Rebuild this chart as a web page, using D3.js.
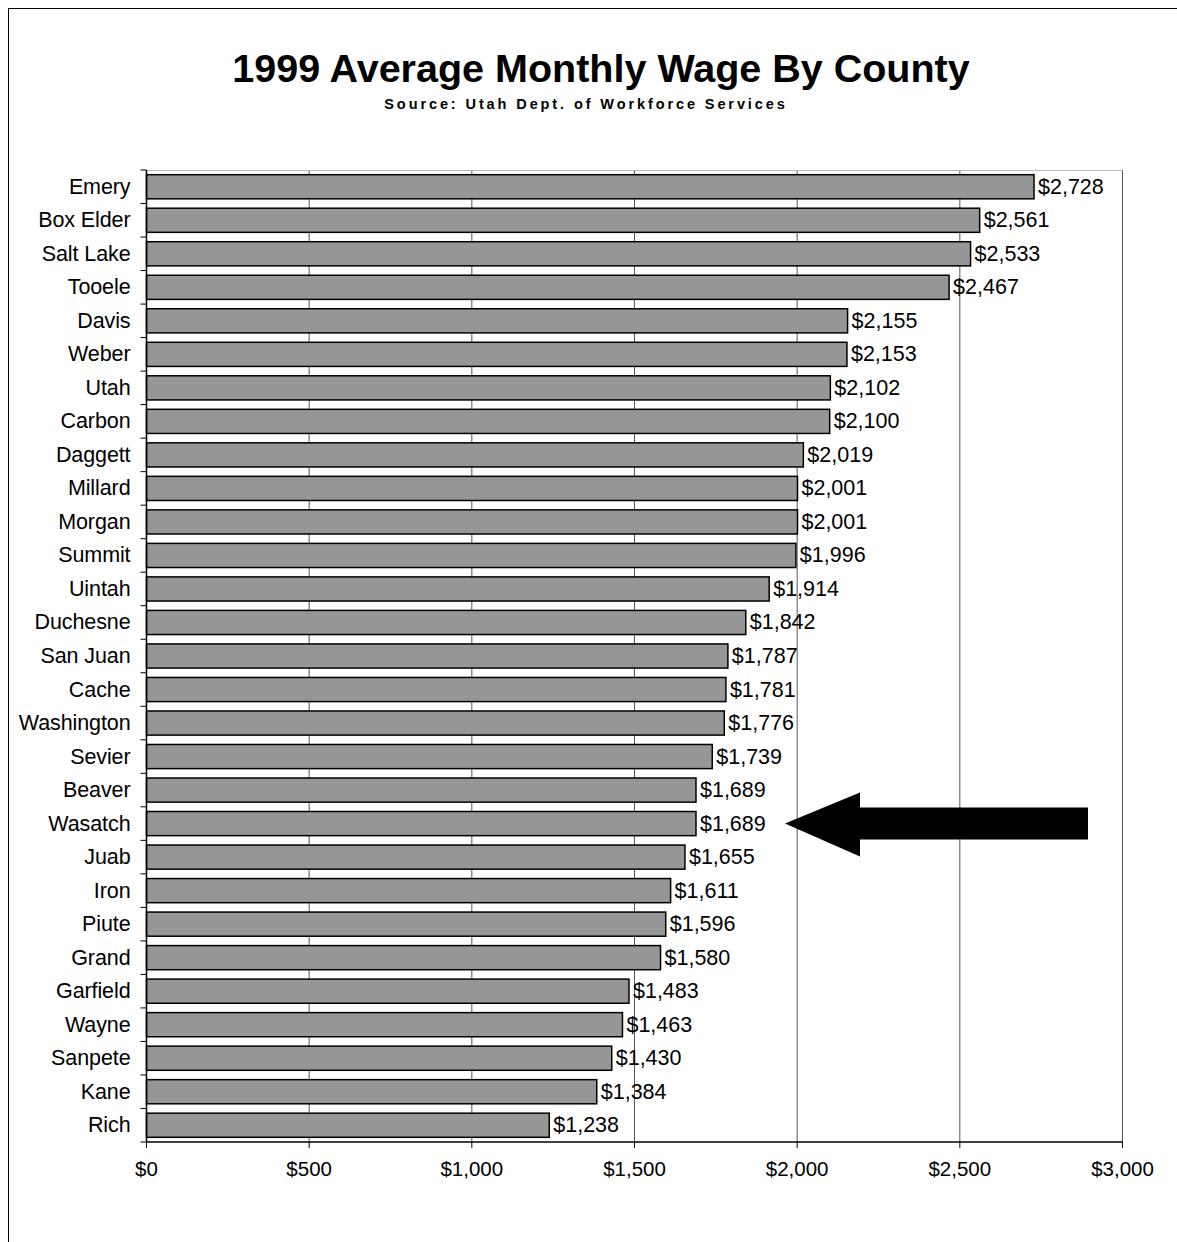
<!DOCTYPE html><html><head><script src="https://cdn.jsdelivr.net/npm/d3@7"></script>
<style>body{margin:0;background:#fff}</style></head><body><script>
const counties=["Emery","Box Elder","Salt Lake","Tooele","Davis","Weber","Utah","Carbon","Daggett","Millard","Morgan","Summit","Uintah","Duchesne","San Juan","Cache","Washington","Sevier","Beaver","Wasatch","Juab","Iron","Piute","Grand","Garfield","Wayne","Sanpete","Kane","Rich"];
const wages=[2728,2561,2533,2467,2155,2153,2102,2100,2019,2001,2001,1996,1914,1842,1787,1781,1776,1739,1689,1689,1655,1611,1596,1580,1483,1463,1430,1384,1238];
const ticks=[0,500,1000,1500,2000,2500,3000];
const highlight="Wasatch";
const W=1177,H=1242;
const svg=d3.select("body").append("svg").attr("width",W).attr("height",H).style("font-family","Liberation Sans, Arial, sans-serif");
svg.append("rect").attr("x",8.5).attr("y",8.5).attr("width",W+20).attr("height",H+20).attr("fill","none").attr("stroke","#000");
const x=d3.scaleLinear().domain([0,3000]).range([146.5,1122.5]);
const y=d3.scaleBand().domain(counties).range([170,1142]).paddingInner(0.28).paddingOuter(0.14);
svg.append("text").attr("x",601).attr("y",82).attr("text-anchor","middle").attr("font-size",39.5).attr("font-weight","bold").text("1999 Average Monthly Wage By County");
svg.append("text").attr("x",586).attr("y",109).attr("text-anchor","middle").attr("font-size",14.5).attr("font-weight","bold").attr("letter-spacing",2.9).text("Source: Utah Dept. of Workforce Services");
svg.selectAll(".g").data(ticks.slice(1)).join("line").attr("x1",d=>x(d)).attr("x2",d=>x(d)).attr("y1",170).attr("y2",1142).attr("stroke","#555");
svg.append("line").attr("x1",146.5).attr("x2",1122.5).attr("y1",170.5).attr("y2",170.5).attr("stroke","#bbb");
svg.selectAll(".b").data(wages).join("rect").attr("x",x(0)).attr("y",(d,i)=>y(counties[i])).attr("width",d=>x(d)-x(0)).attr("height",y.bandwidth()).attr("fill","#969696").attr("stroke","#000").attr("stroke-width",1.5);
svg.selectAll(".l").data(wages).join("text").attr("x",d=>x(d)+4).attr("y",(d,i)=>y(counties[i])+y.bandwidth()/2+7).attr("font-size",21.5).text(d=>d3.format("$,")(d));
const ya=svg.append("g").attr("transform","translate(146.5,0)");
ya.append("line").attr("y1",170).attr("y2",1142).attr("stroke","#000").attr("stroke-width",1.5);
ya.selectAll(".t").data(d3.range(counties.length+1)).join("line").attr("x1",-6).attr("x2",0).attr("y1",i=>170+i*972/29).attr("y2",i=>170+i*972/29).attr("stroke","#000");
ya.selectAll(".c").data(counties).join("text").attr("x",-16).attr("y",d=>y(d)+y.bandwidth()/2+7).attr("text-anchor","end").attr("font-size",21.5).attr("letter-spacing",-0.1).text(d=>d);
const xa=svg.append("g").attr("transform","translate(0,1142)");
xa.append("line").attr("x1",146.5).attr("x2",1122.5).attr("stroke","#000").attr("stroke-width",1.5);
xa.selectAll(".t").data(ticks).join("line").attr("x1",d=>x(d)).attr("x2",d=>x(d)).attr("y1",0).attr("y2",6).attr("stroke","#000");
xa.selectAll(".x").data(ticks).join("text").attr("x",d=>x(d)).attr("y",34).attr("text-anchor","middle").attr("font-size",20.5).text(d=>d3.format("$,")(d));
const cy=y(highlight)+y.bandwidth()/2;
svg.append("path").attr("d",`M785,${cy} L860,${cy-31} L860,${cy-16} L1088,${cy-16} L1088,${cy+16} L860,${cy+16} L860,${cy+33} Z`).attr("fill","#000");
</script></body></html>
